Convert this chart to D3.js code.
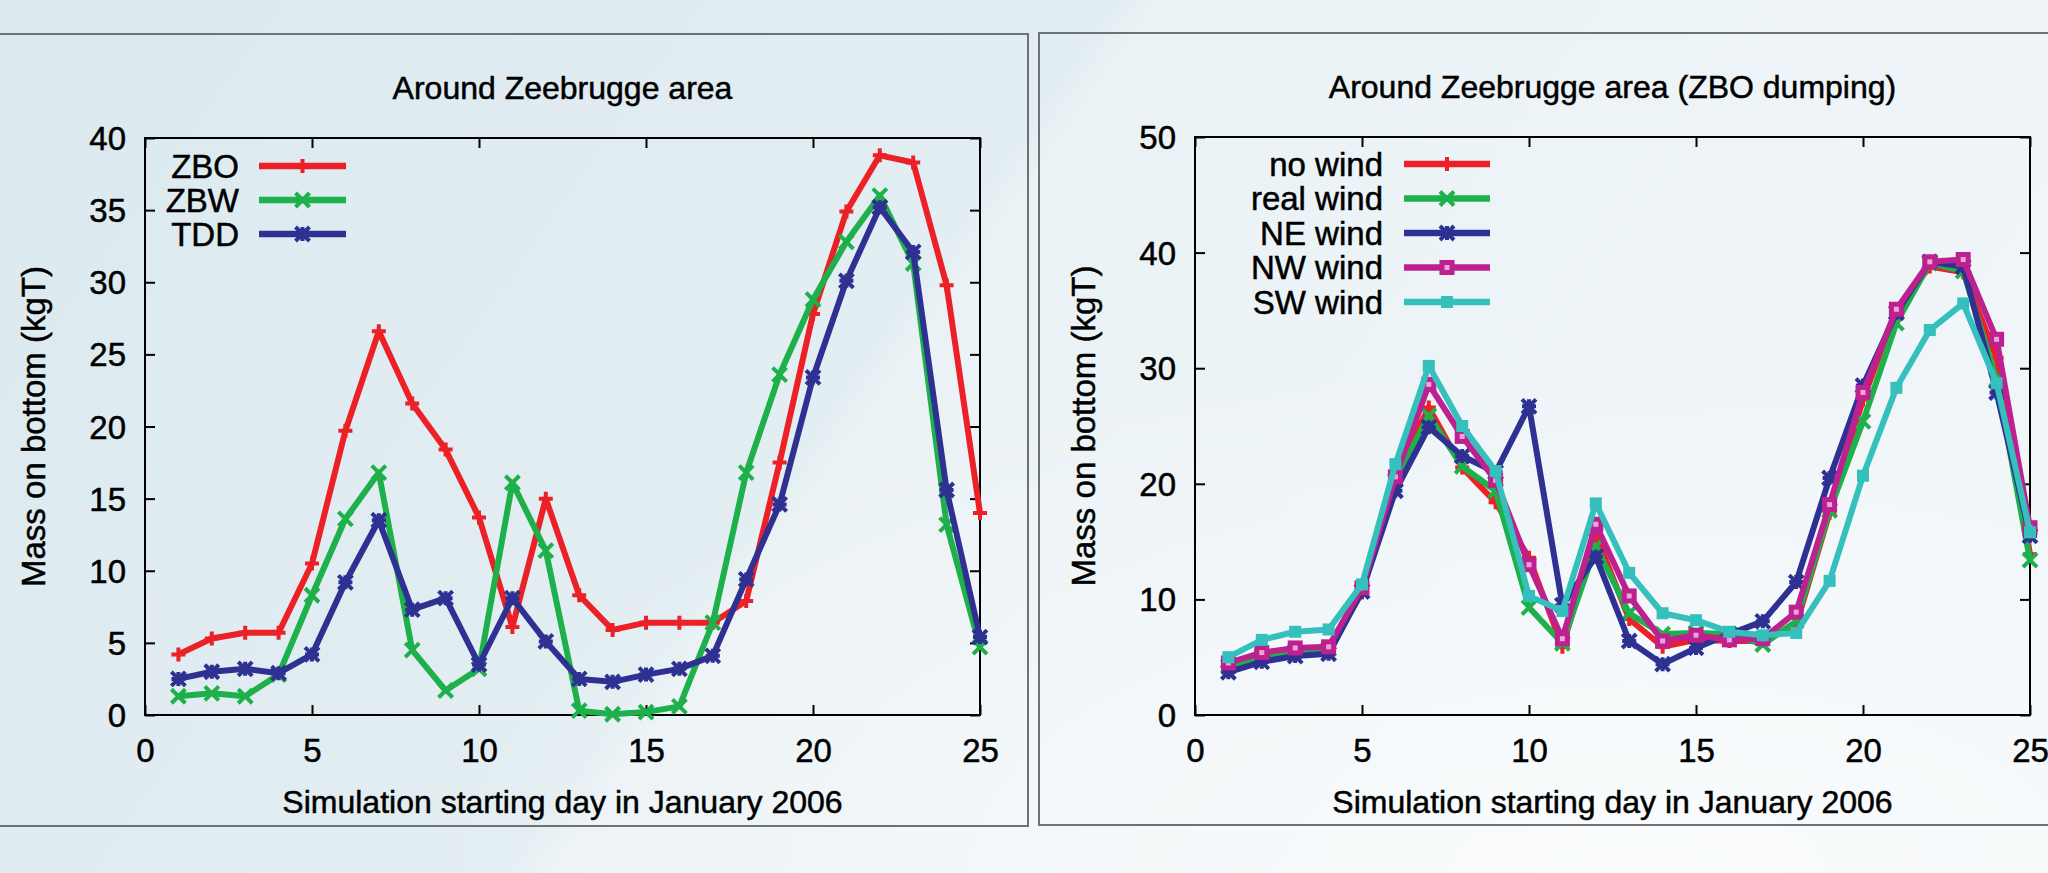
<!DOCTYPE html>
<html>
<head>
<meta charset="utf-8">
<script src="https://cdn.jsdelivr.net/npm/d3@7"></script>
<style>
  html, body { margin: 0; padding: 0; overflow: hidden; background: #e6eff3; }
  svg { display: block; }
  text { font-family: "Liberation Sans", Arial, Helvetica, sans-serif; fill: #000; stroke: #000; stroke-width: 0.5px; }
</style>
</head>
<body>
<svg id="chart" width="2048" height="873"></svg>
<script>
// ---------------- DATA ----------------
const days = [1,2,3,4,5,6,7,8,9,10,11,12,13,14,15,16,17,18,19,20,21,22,23,24,25];
const xTicks = [0,5,10,15,20,25];
const leftYTicks = [0,5,10,15,20,25,30,35,40];
const rightYTicks = [0,10,20,30,40,50];

const leftTitle = "Around Zeebrugge area";
const rightTitle = "Around Zeebrugge area (ZBO dumping)";
const xTitle = "Simulation starting day in January 2006";
const yTitle = "Mass on bottom (kgT)";

const leftNames = ["ZBO", "ZBW", "TDD"];
const zbo = [4.2,5.3,5.7,5.7,10.5,19.7,26.6,21.6,18.4,13.7,6.1,15.0,8.3,5.9,6.4,6.4,6.4,7.9,17.5,27.8,34.9,38.8,38.3,29.8,14.0];
const zbw = [1.3,1.5,1.3,2.8,8.3,13.6,16.8,4.5,1.7,3.2,16.1,11.4,0.3,0.05,0.2,0.6,6.4,16.8,23.6,28.8,32.8,36.0,31.3,13.2,4.7];
const tdd = [2.5,3.0,3.2,2.9,4.2,9.2,13.5,7.3,8.1,3.5,8.1,5.1,2.5,2.3,2.8,3.2,4.1,9.4,14.6,23.4,30.1,35.2,32.1,15.6,5.4];

const rightNames = ["no wind", "real wind", "NE wind", "NW wind", "SW wind"];
const noWind   = [4.2,5.3,5.7,5.7,10.6,20.9,26.6,21.4,18.4,13.6,5.9,15.6,8.3,5.9,6.5,6.4,6.4,7.8,17.5,27.3,35.0,38.8,38.3,30.9,13.9];
const realWind = [4.2,5.1,5.5,5.7,10.7,20.3,25.9,21.5,19.4,9.3,6.2,14.6,8.8,7.0,7.1,7.0,6.1,8.1,17.7,25.4,33.9,39.1,38.4,29.0,13.4];
const neWind   = [3.7,4.6,5.1,5.3,10.7,19.4,24.9,22.4,21.0,26.7,9.5,13.7,6.4,4.4,5.8,7.0,8.1,11.5,20.5,28.5,34.8,39.2,38.8,27.9,15.5];
const nwWind   = [4.5,5.4,5.8,5.9,11.0,20.6,28.6,24.1,20.3,13.0,6.6,16.5,10.3,6.4,6.9,6.5,6.6,8.9,18.2,27.9,35.1,39.2,39.4,32.5,16.2];
const swWind   = [5.0,6.5,7.2,7.4,11.3,21.7,30.2,25.0,21.1,10.3,9.0,18.3,12.3,8.8,8.2,7.2,6.9,7.1,11.6,20.7,28.3,33.3,35.6,28.7,15.8];

// ---------------- STYLE ----------------
const RED = "#ec2127", GREEN = "#1eb04a", BLUE = "#2e3192", MAGENTA = "#bd2190", CYAN = "#35bfbd";

const svg = d3.select("#chart");
const W = 2048, H = 873;

// background
const defs = svg.append("defs");
const lg = defs.append("linearGradient").attr("id", "bg").attr("x1", "0").attr("x2", "1").attr("y1", "0").attr("y2", "0.3");
lg.append("stop").attr("offset", "0").attr("stop-color", "#dbe9ef");
lg.append("stop").attr("offset", "0.5").attr("stop-color", "#e3eef2");
lg.append("stop").attr("offset", "0.52").attr("stop-color", "#ebf2f5");
lg.append("stop").attr("offset", "1").attr("stop-color", "#eff5f8");
const rg = defs.append("radialGradient").attr("id", "glow").attr("cx", "0.8").attr("cy", "1.0").attr("r", "0.6");
rg.append("stop").attr("offset", "0").attr("stop-color", "#ffffff").attr("stop-opacity", 0.7);
rg.append("stop").attr("offset", "1").attr("stop-color", "#ffffff").attr("stop-opacity", 0);
svg.append("rect").attr("width", W).attr("height", H).attr("fill", "url(#bg)");
svg.append("rect").attr("width", W).attr("height", H).attr("fill", "url(#glow)");

// panel frames
svg.append("rect").attr("x", -5).attr("y", 34).attr("width", 1033).attr("height", 792)
  .attr("fill", "none").attr("stroke", "#6d7275").attr("stroke-width", 2);
svg.append("rect").attr("x", 1039).attr("y", 33).attr("width", 1020).attr("height", 792)
  .attr("fill", "none").attr("stroke", "#6d7275").attr("stroke-width", 2);

// marker drawers
function drawMarker(g, type, color, x, y) {
  const s = 7;
  const sw = 4;
  if (type === "plus") {
    g.append("path").attr("d", `M${x-s},${y}H${x+s}M${x},${y-s}V${y+s}`)
      .attr("stroke", color).attr("stroke-width", sw).attr("fill", "none");
  } else if (type === "cross") {
    g.append("path").attr("d", `M${x-s},${y-s}L${x+s},${y+s}M${x-s},${y+s}L${x+s},${y-s}`)
      .attr("stroke", color).attr("stroke-width", sw).attr("fill", "none");
  } else if (type === "star") {
    g.append("path").attr("d", `M${x-s},${y}H${x+s}M${x},${y-s}V${y+s}M${x-s},${y-s}L${x+s},${y+s}M${x-s},${y+s}L${x+s},${y-s}`)
      .attr("stroke", color).attr("stroke-width", sw).attr("fill", "none");
  } else if (type === "box") {
    g.append("rect").attr("x", x-7.5).attr("y", y-7.5).attr("width", 15).attr("height", 15)
      .attr("fill", color);
    g.append("rect").attr("x", x-2.5).attr("y", y-2.5).attr("width", 5).attr("height", 5)
      .attr("fill", "#e9a6d6");
  } else if (type === "fbox") {
    g.append("rect").attr("x", x-6).attr("y", y-6).attr("width", 12).attr("height", 12)
      .attr("fill", color);
  }
}

function drawPanel(cfg) {
  const { left, top, right, bottom, yMax, yTicks, series, title, legend } = cfg;
  const x = d3.scaleLinear().domain([0, 25]).range([left, right]);
  const y = d3.scaleLinear().domain([0, yMax]).range([bottom, top]);
  const g = svg.append("g");

  // title
  g.append("text").attr("x", (left + right) / 2).attr("y", top - 39)
    .attr("text-anchor", "middle").attr("font-size", 32).text(title);

  // axes with inward ticks on all four sides
  const tickLen = 10;
  const axB = g.append("g").attr("transform", `translate(0,${bottom})`)
    .call(d3.axisBottom(x).tickValues(xTicks).tickSize(-tickLen).tickPadding(0).tickFormat(d3.format("d")));
  axB.select(".domain").remove();
  axB.selectAll(".tick line").attr("stroke", "#000").attr("stroke-width", 2);
  axB.selectAll(".tick text").attr("font-size", 33).attr("dy", null).attr("y", 47)
    .attr("font-family", "Liberation Sans, Arial, sans-serif").attr("fill", "#000");

  const axT = g.append("g").attr("transform", `translate(0,${top})`)
    .call(d3.axisTop(x).tickValues(xTicks).tickSize(-tickLen).tickFormat(""));
  axT.select(".domain").remove();
  axT.selectAll(".tick line").attr("stroke", "#000").attr("stroke-width", 2);

  const axL = g.append("g").attr("transform", `translate(${left},0)`)
    .call(d3.axisLeft(y).tickValues(yTicks).tickSize(-tickLen).tickPadding(19).tickFormat(d3.format("d")));
  axL.select(".domain").remove();
  axL.selectAll(".tick line").attr("stroke", "#000").attr("stroke-width", 2);
  axL.selectAll(".tick text").attr("font-size", 33).attr("x", -19).attr("dy", "0.35em")
    .attr("font-family", "Liberation Sans, Arial, sans-serif").attr("fill", "#000");

  const axR = g.append("g").attr("transform", `translate(${right},0)`)
    .call(d3.axisRight(y).tickValues(yTicks).tickSize(-tickLen).tickFormat(""));
  axR.select(".domain").remove();
  axR.selectAll(".tick line").attr("stroke", "#000").attr("stroke-width", 2);

  // border
  g.append("rect").attr("x", left).attr("y", top).attr("width", right - left).attr("height", bottom - top)
    .attr("fill", "none").attr("stroke", "#000").attr("stroke-width", 2);

  // axis titles
  g.append("text").attr("x", (left + right) / 2).attr("y", bottom + 98)
    .attr("text-anchor", "middle").attr("font-size", 32).text(xTitle);
  g.append("text").attr("transform", `translate(${left - 100},${(top + bottom) / 2}) rotate(-90)`)
    .attr("text-anchor", "middle").attr("font-size", 33).text(yTitle);

  // series
  const line = d3.line().x((d, i) => x(days[i])).y(d => y(d));
  series.forEach(s => {
    const sg = g.append("g");
    sg.append("path").datum(s.values).attr("d", line)
      .attr("fill", "none").attr("stroke", s.color).attr("stroke-width", 6)
      .attr("stroke-linejoin", "round").attr("stroke-linecap", "butt");
    s.values.forEach((v, i) => drawMarker(sg, s.marker, s.color, x(days[i]), y(v)));
  });

  // legend
  series.forEach((s, i) => {
    const ry = legend.y0 + i * legend.dy;
    g.append("text").attr("x", legend.textRight).attr("y", ry).attr("dy", "0.36em")
      .attr("text-anchor", "end").attr("font-size", 33).text(s.name);
    g.append("line").attr("x1", legend.lineStart).attr("x2", legend.lineEnd)
      .attr("y1", ry).attr("y2", ry).attr("stroke", s.color).attr("stroke-width", 6.5);
    drawMarker(g, s.marker, s.color, (legend.lineStart + legend.lineEnd) / 2, ry);
  });
}

drawPanel({
  left: 145, top: 138, right: 980, bottom: 715,
  yMax: 40, yTicks: leftYTicks, title: leftTitle,
  series: [
    { name: leftNames[0], values: zbo, color: RED, marker: "plus" },
    { name: leftNames[1], values: zbw, color: GREEN, marker: "cross" },
    { name: leftNames[2], values: tdd, color: BLUE, marker: "star" }
  ],
  legend: { textRight: 239, lineStart: 259, lineEnd: 346, y0: 166, dy: 34 }
});

drawPanel({
  left: 1195, top: 137, right: 2030, bottom: 715,
  yMax: 50, yTicks: rightYTicks, title: rightTitle,
  series: [
    { name: rightNames[0], values: noWind, color: RED, marker: "plus" },
    { name: rightNames[1], values: realWind, color: GREEN, marker: "cross" },
    { name: rightNames[2], values: neWind, color: BLUE, marker: "star" },
    { name: rightNames[3], values: nwWind, color: MAGENTA, marker: "box" },
    { name: rightNames[4], values: swWind, color: CYAN, marker: "fbox" }
  ],
  legend: { textRight: 1383, lineStart: 1404, lineEnd: 1490, y0: 164, dy: 34.5 }
});
</script>
</body>
</html>
